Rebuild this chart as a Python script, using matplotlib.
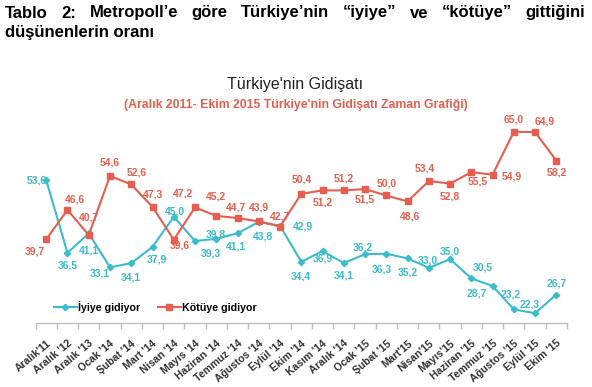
import matplotlib
matplotlib.use("Agg")
import matplotlib.pyplot as plt
from matplotlib.lines import Line2D

# data
months = ["Aralık'11", "Aralık '12", "Aralık '13", "Ocak '14", "Şubat '14",
          "Mart '14", "Nisan '14", "Mayıs '14", "Haziran '14", "Temmuz '14",
          "Ağustos '14", "Eylül '14", "Ekim '14", "Kasım '14", "Aralık '14",
          "Ocak '15", "Şubat '15", "Mart'15", "Nisan'15", "Mayıs'15",
          "Haziran '15", "Temmuz '15", "Ağustos '15", "Eylül '15", "Ekim '15"]
iyiye = [53.6, 36.5, 41.1, 33.1, 34.1, 37.9, 45.0, 39.3, 39.8, 41.1, 43.8, 42.9,
         34.4, 36.9, 34.1, 36.2, 36.3, 35.2, 33.0, 35.0, 30.5, 28.7, 23.2, 22.3, 26.7]
kotuye = [39.7, 46.6, 40.7, 54.6, 52.6, 47.3, 39.6, 47.2, 45.2, 44.7, 43.9, 42.7,
          50.4, 51.2, 51.2, 51.5, 50.0, 48.6, 53.4, 52.8, 55.5, 54.9, 65.0, 64.9, 58.2]

# label offsets (pixels, image style: +y = down)
iyi_off = [(-9, 0), (0, 13), (0, 17), (-10, 6), (0, 14), (4, 13), (1, -5), (16, 13),
           (0, -4), (-2, 13), (4, 15), (23, 1), (0, 15), (0, 7), (0, 12), (-2, -7),
           (-4, 16), (0, 14), (-1, -7), (0, -8), (11, -11), (-16, 7), (-3, -15),
           (-5, -9), (0, -11)]
kot_off = [(-11, 12), (7, -10), (0, -18), (0, -13), (6, -12), (0, -12), (6, 6),
           (-12, -14), (0, -19), (-2, -11), (0, -14), (0, -10), (0, -14), (0, 12),
           (0, -12), (0, 10), (0, -12), (2, 15), (-4, -13), (0, 13), (6, 9), (19, 2),
           (0, -12), (10, -11), (0, 12)]

TEAL = "#3BBCCB"
RED = "#E65E4F"
W, H = 592, 387

fig = plt.figure(figsize=(W / 100, H / 100), dpi=100)
ax = fig.add_axes([35.6 / W, 1 - 323 / H, (567 - 35.6) / W, (323 - 110.5) / H])

x = list(range(len(months)))
ax.plot(x, iyiye, color=TEAL, lw=1.5, marker="D", ms=3.2, zorder=3)
ax.plot(x, kotuye, color=RED, lw=1.5, marker="s", ms=5, zorder=3)

lab_font = dict(family="Liberation Sans", weight="bold", fontsize=7.5)
for i in x:
    for vals, offs, col in ((iyiye, iyi_off, TEAL), (kotuye, kot_off, RED)):
        dx, dy = offs[i]
        ax.annotate(f"{vals[i]:.1f}".replace(".", ","), (i, vals[i]),
                    xytext=(dx, -dy), textcoords="offset pixels",
                    ha="center", va="center", color=col, zorder=4, **lab_font)

ax.set_xlim(-0.5, len(months) - 0.5)
ax.set_ylim(20, 70)
for s in ("top", "right", "left"):
    ax.spines[s].set_visible(False)
ax.spines["bottom"].set_color("#BFBFBF")
ax.spines["bottom"].set_linewidth(1)
ax.set_yticks([])
ax.set_xticks(x)
ax.set_xticklabels(months, rotation=40, ha="right", rotation_mode="anchor",
                   color="#333333", family="Liberation Sans", weight="bold",
                   fontsize=7.6)
ax.set_xticks([i - 0.5 for i in range(len(months) + 1)], minor=True)
ax.tick_params(axis="x", which="major", length=0, pad=11)
ax.tick_params(axis="x", which="minor", length=4, color="#BFBFBF", width=1)

handles = [Line2D([], [], color=TEAL, lw=1.5, marker="D", ms=3.2),
           Line2D([], [], color=RED, lw=1.5, marker="s", ms=5)]
fig.legend(handles, ["İyiye gidiyor", "Kötüye gidiyor"], loc="center left",
           bbox_to_anchor=(44 / W, 1 - 307 / H), ncol=2, frameon=False,
           handlelength=2.2, handletextpad=0.1, columnspacing=1.6,
           prop=dict(family="Liberation Sans", weight="bold", size=7.7))

# chart titles
fig.text(295 / W, 1 - 85 / H, "Türkiye'nin Gidişatı", ha="center", va="center",
         fontsize=11.5, color="#222222", family="Liberation Sans")
fig.text(296 / W, 1 - 105 / H,
         "(Aralık 2011- Ekim 2015 Türkiye'nin Gidişatı Zaman Grafiği)",
         ha="center", va="center", fontsize=8.8, color=RED,
         family="Liberation Sans", weight="bold")

# justified header, first line
head_words = ["Tablo", "2:", "Metropoll’e", "göre", "Türkiye’nin", "“iyiye”", "ve",
              "“kötüye”", "gittiğini"]
head_font = dict(family="Liberation Sans", weight="bold", fontsize=12, color="black")
texts = [fig.text(0, 1 - 13 / H, w, va="center", ha="left", **head_font)
         for w in head_words]
fig.canvas.draw()
r = fig.canvas.get_renderer()
widths = [t.get_window_extent(r).width for t in texts]
left, right = 5, 585
gap = (right - left - sum(widths)) / (len(texts) - 1)
pos = left
for t, w in zip(texts, widths):
    t.set_x(pos / W)
    pos += w + gap
fig.text(5 / W, 1 - 32 / H, "düşünenlerin oranı", va="center", ha="left", **head_font)

fig.savefig("out.png", dpi=100)
